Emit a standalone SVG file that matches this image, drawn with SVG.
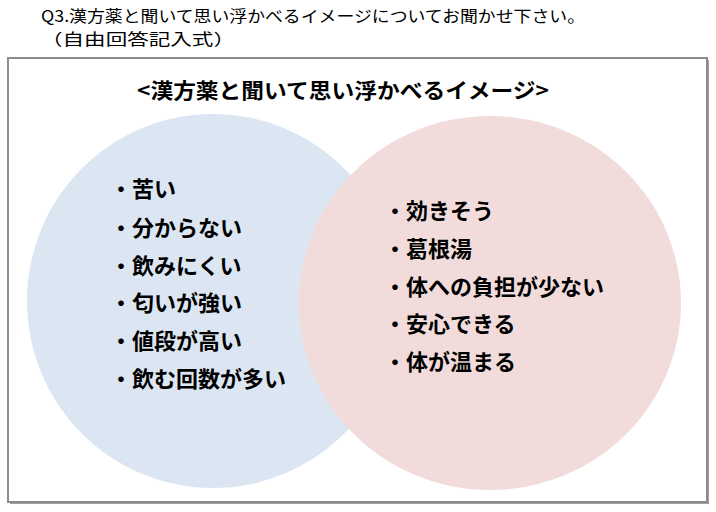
<svg xmlns="http://www.w3.org/2000/svg" width="716" height="512" viewBox="0 0 716 512">
<defs>
<style>
.q{font-family:"Noto Sans CJK JP","Noto Sans",sans-serif;font-size:16px;fill:#000}
.h{font-family:"Noto Sans CJK JP","Noto Sans",sans-serif;font-size:21px;font-weight:bold;fill:#000}
.i{font-family:"Noto Sans CJK JP","Noto Sans",sans-serif;font-size:22px;font-weight:bold;fill:#000}
</style>
</defs>
<rect width="716" height="512" fill="#fff"/>
<g id="question">
<text class="q" x="41" y="22" textLength="544" lengthAdjust="spacingAndGlyphs">Q3.漢方薬と聞いて思い浮かべるイメージについてお聞かせ下さい。</text>
<text class="q" x="41" y="45" textLength="194" lengthAdjust="spacingAndGlyphs">（自由回答記入式）</text>
</g>
<g id="frame">
<rect x="10" y="60" width="699" height="444" fill="#a0a0a0"/>
<rect x="8" y="58" width="699" height="444" fill="#fff" stroke="#8c8c8c" stroke-width="2"/>
</g>
<g id="header">
<text class="h" x="343" y="98" text-anchor="middle" textLength="412" lengthAdjust="spacingAndGlyphs">&lt;漢方薬と聞いて思い浮かべるイメージ&gt;</text>
</g>
<g id="left-circle">
<ellipse cx="213" cy="301" rx="186" ry="187" fill="#dce6f2"/>
</g>
<g id="right-circle">
<ellipse cx="490" cy="303" rx="191" ry="187" fill="#f2dcdb"/>
</g>
<g id="left-items">
<text class="i" x="110" y="197">・苦い</text>
<text class="i" x="110" y="236">・分からない</text>
<text class="i" x="110" y="274">・飲みにくい</text>
<text class="i" x="110" y="311">・匂いが強い</text>
<text class="i" x="110" y="349">・値段が高い</text>
<text class="i" x="110" y="387">・飲む回数が多い</text>
</g>
<g id="right-items">
<text class="i" x="384" y="219">・効きそう</text>
<text class="i" x="384" y="257">・葛根湯</text>
<text class="i" x="384" y="295">・体への負担が少ない</text>
<text class="i" x="384" y="332">・安心できる</text>
<text class="i" x="384" y="370">・体が温まる</text>
</g>
<g id="connectors"/>
</svg>
